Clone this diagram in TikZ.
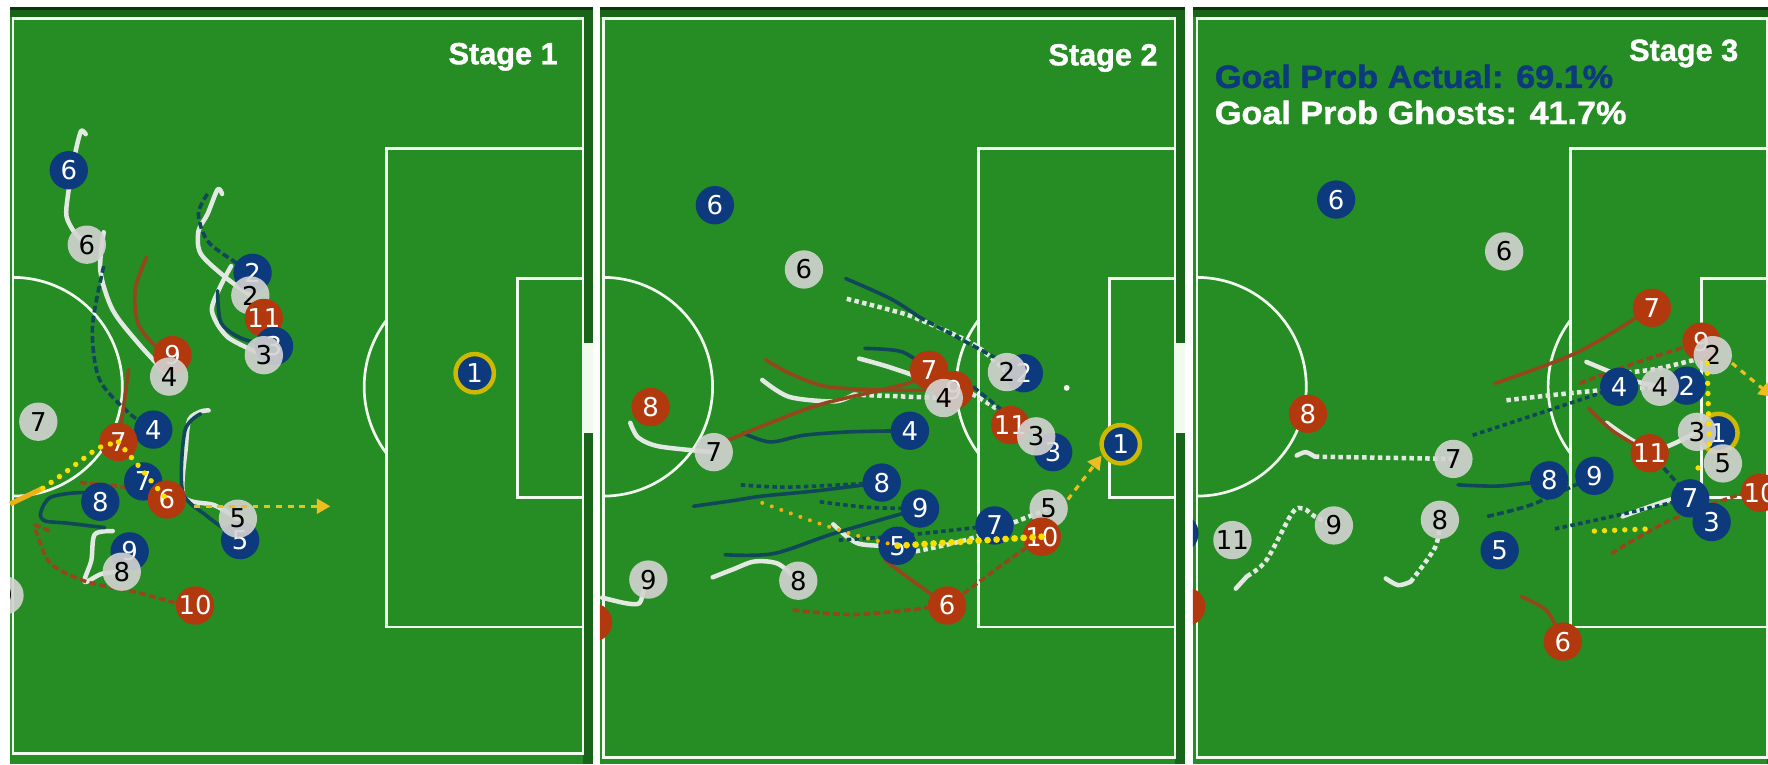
\documentclass[tikz,border=0pt]{standalone}
\usepackage{fontspec}
\setmainfont{DejaVu Sans}
\newfontfamily\labfont[BoldFeatures={FakeBold=1.2}]{Liberation Sans}
\usetikzlibrary{arrows.meta}
\definecolor{pitch}{RGB}{38,140,36}
\definecolor{pitchdark}{RGB}{24,100,24}
\definecolor{pitchedge}{RGB}{14,52,14}
\definecolor{lineW}{RGB}{240,250,238}
\definecolor{navy}{RGB}{12,58,125}
\definecolor{rust}{RGB}{178,56,14}
\definecolor{ghost}{RGB}{212,212,210}
\definecolor{btr}{RGB}{16,72,90}
\definecolor{rtr}{RGB}{150,70,28}
\definecolor{gtr}{RGB}{226,233,226}
\definecolor{ball}{RGB}{250,222,0}
\definecolor{ballor}{RGB}{240,175,20}
\definecolor{arr}{RGB}{238,190,30}
\definecolor{ring}{RGB}{205,185,0}
\pgfdeclarelayer{fieldlayer}
\pgfdeclarelayer{traillayer}
\pgfsetlayers{fieldlayer,traillayer,main}
\tikzset{
 pl/.style={circle,inner sep=0pt,minimum size=17pt,font=\fontsize{11.5}{11.5}\selectfont},
 bp/.style={pl,fill=navy,text=white},
 rp/.style={pl,fill=rust,text=white},
 gp/.style={pl,fill=ghost,text=black,fill opacity=0.9,text opacity=1},
 gk/.style={bp,draw=ring,line width=2pt},
 fl/.style={draw=lineW,line width=1.2pt},
 bt/.style={draw=btr,line width=1.6pt,line cap=round,line join=round},
 rt/.style={draw=rtr,line width=1.6pt,line cap=round,line join=round},
 gt/.style={draw=gtr,line width=2pt,line cap=round,line join=round},
 dotd/.style={line cap=butt,dash pattern=on 2pt off 1.5pt},
 dsh/.style={line cap=butt,dash pattern=on 3pt off 1.5pt},
 balldots/.style={draw=ball,line width=2.4pt,line cap=round,dash pattern=on 0pt off 4.5pt},
 passarrow/.style={draw=arr,line width=1.4pt,line cap=butt,dash pattern=on 2.6pt off 2.6pt,-{Triangle[length=6pt,width=6.5pt]}},
 stage/.style={text=white,font=\labfont\bfseries\fontsize{13.6}{14}\selectfont,anchor=base east,inner sep=0pt},
 prob/.style={font=\labfont\bfseries\fontsize{14.3}{15}\selectfont,anchor=base west,inner sep=0pt,xscale=1.06},
}
\newcommand{\pitchpanel}[5]{%
\begin{pgfonlayer}{fieldlayer}
\begin{scope}[shift={(#1,0)}]
\fill[pitchdark] (#2,6) rectangle (#5,678);
\fill[pitch] (#2,15) rectangle (517,678);
\fill[pitchedge] (#2,6) rectangle (#5,9);
\draw[fl] (#3,16.5) rectangle (517,#4);
\draw[fl] (343,132) rectangle (517,556);
\draw[fl] (459,247) rectangle (517,441);
\draw[fl] (#3,246) arc[start angle=-90,end angle=90,radius=97];
\draw[fl] (342.7,402) arc[start angle=143,end angle=217,radius=98];
\fill[lineW] (421,344) circle[radius=2.6];
\fill[lineW] (517,304) rectangle (#5,384);
\end{scope}
\end{pgfonlayer}}
\begin{document}
\begin{tikzpicture}[x=0.5pt,y=-0.5pt]
\useasboundingbox (0,0) rectangle (1568,678);
\pitchpanel{0}{9}{11.5}{668}{526}
\pitchpanel{525}{7}{10}{672}{526}
\pitchpanel{1050}{8}{11.5}{672}{526}

% ---------------- Panel 1 players
\begin{scope}
\clip (9,6) rectangle (526,678);
\node[bp] (pb6) at (61,151) {6};
\node[gp] (pg6) at (77,217) {6};
\node[bp] (pb2) at (224,242) {2};
\node[gp] (pg2) at (222,262) {2};
\node[rp] (pr11) at (234,282) {11};
\node[bp] (pb3) at (243,307) {3};
\node[gp] (pg3) at (234,315) {3};
\node[rp] (pr9) at (153,315) {9};
\node[gp] (pg4) at (150,334) {4};
\node[bp] (pb4) at (136,381) {4};
\node[rp] (pr7) at (105,392) {7};
\node[bp] (pb7) at (127,427) {7};
\node[rp] (pr6) at (148,443) {6};
\node[bp] (pb8) at (89,445) {8};
\node[gp] (pg7) at (34,374) {7};
\node[bp] (pb5) at (213,479) {5};
\node[gp] (pg5) at (211,460) {5};
\node[bp] (pb9) at (115,489) {9};
\node[gp] (pg8) at (108,507) {8};
\node[rp] (pr10) at (173,537) {10};
\node[gp] (pg9) at (4,528) {9};
\node[gk] (pk) at (421,331) {1};
\end{scope}

% ---------------- Panel 2 players
\begin{scope}
\clip (532,6) rectangle (1051,678);
\node[bp] (qb6) at (634,182) {6};
\node[gp] (qg6) at (713,239) {6};
\node[bp] (qb2) at (908,331) {2};
\node[gp] (qg2) at (893,330) {2};
\node[rp] (qr7) at (824,328) {7};
\node[rp] (qr9) at (846,346) {9};
\node[gp] (qg4) at (837,353) {4};
\node[rp] (qr11) at (896,377) {11};
\node[bp] (qb3) at (934,401) {3};
\node[gp] (qg3) at (919,387) {3};
\node[rp] (qr8) at (577,361) {8};
\node[gp] (qg7) at (633,401) {7};
\node[bp] (qb4) at (807,382) {4};
\node[bp] (qb8) at (782,428) {8};
\node[bp] (qb9) at (816,451) {9};
\node[bp] (qb7) at (882,466) {7};
\node[bp] (qb5) at (796,484) {5};
\node[gp] (qg5) at (930,451) {5};
\node[rp] (qr10) at (924,476) {10};
\node[gp] (qg9) at (575,514) {9};
\node[gp] (qg8) at (708,515) {8};
\node[rp] (qr6) at (840,537) {6};
\node[rp] (qr2) at (526,552) {2};
\node[gk] (qk) at (994,394) {1};
\end{scope}

% ---------------- Panel 3 players
\begin{scope}
\clip (1058,6) rectangle (1568,678);
\node[bp] (sb6) at (1185,177) {6};
\node[gp] (sg6) at (1334,223) {6};
\node[rp] (sr7) at (1465,273) {7};
\node[rp] (sr9) at (1509,303) {9};
\node[gp] (sg2) at (1519,315) {2};
\node[bp] (sb4) at (1436,343) {4};
\node[bp] (sb2) at (1496,342) {2};
\node[gp] (sg4) at (1472,343) {4};
\node[gk] (sk) at (1524,384) {1};
\node[gp] (sg3) at (1505,383) {3};
\node[gp] (sg5) at (1528,411) {5};
\node[rp] (sr11) at (1463,402) {11};
\node[rp] (sr8) at (1160,367) {8};
\node[gp] (sg7) at (1289,407) {7};
\node[bp] (sb8) at (1374,426) {8};
\node[bp] (sb9) at (1414,422) {9};
\node[bp] (sb7) at (1499,442) {7};
\node[bp] (sb3) at (1518,463) {3};
\node[rp] (sr10) at (1561,437) {10};
\node[bp] (sb5) at (1330,488) {5};
\node[gp] (sg11) at (1093,479) {11};
\node[gp] (sg9) at (1183,466) {9};
\node[gp] (sg8) at (1277,461) {8};
\node[bp] (sbx) at (1046,473) {};
\node[rp] (sr2) at (1052,538) {2};
\node[rp] (sr6) at (1386,569) {6};
\end{scope}

% ---------------- trails
\begin{pgfonlayer}{traillayer}
% panel 1
\draw[gt] plot[smooth] coordinates {(76,119) (72,116) (68,130) (64,150) (60,175) (59,192) (66,206) (pg6.center)};
\draw[gt] plot[smooth] coordinates {(92,206) (89,240) (100,275) (124,306) (pg4.center)};
\draw[gt] plot[smooth] coordinates {(197,172) (193,168) (184,190) (176,205) (178,225) (200,246) (pg2.center)};
\draw[gt] plot[smooth] coordinates {(205,236) (195,255) (188,276) (202,299) (pg3.center)};
\draw[gt] plot[smooth] coordinates {(185,364) (178,365) (168,372) (165,395) (163,440) (190,448) (pg5.center)};
\draw[gt] plot[smooth] coordinates {(100,471) (84,474) (81,497) (75,516) (90,509) (pg8.center)};
\draw[bt,dsh] plot[smooth] coordinates {(92,236) (82,290) (88,336) (114,366) (pb4.center)};
\draw[bt,dsh] plot[smooth] coordinates {(184,172) (176,190) (186,216) (pb2.center)};
\draw[bt] plot[smooth] coordinates {(193,258) (196,286) (214,300) (pb3.center)};
\draw[bt] plot[smooth] coordinates {(178,367) (164,382) (162,436) (184,458) (pb5.center)};
\draw[bt] plot[smooth] coordinates {(pb8.center) (74,437) (45,441) (36,455) (40,462) (60,464) (93,468)};
\draw[rt] plot[smooth] coordinates {(130,228) (120,256) (122,286) (136,305) (pr9.center)};
\draw[rt] plot[smooth] coordinates {(114,328) (110,358) (pr7.center)};
\draw[rt,dsh] plot[smooth] coordinates {(71,428) (110,432) (pr6.center)};
\draw[rt,dsh] plot[smooth] coordinates {(pr10.center) (157,535) (120,525) (77,516) (45,500) (33,474) (31,466) (44,471)};
\draw[draw=ballor,line width=2.2pt] (9,447) -- (38,433);
% panel 2
\draw[gt,dotd] plot[smooth] coordinates {(751,265) (790,275) (812,282) (863,305) (qg2.center)};
\draw[gt] plot[smooth] coordinates {(676,337) (700,352) (740,356) (757,350)};
\draw[gt,dotd] (757,350) -- (qg4.center);
\draw[gt] plot[smooth] coordinates {(762,318) (790,326) (822,338) (qg4.center)};
\draw[gt,dotd] plot[smooth] coordinates {(856,346) (880,360) (qg3.center)};
\draw[gt] plot[smooth] coordinates {(559,375) (566,388) (585,396) (qg7.center)};
\draw[gt] plot[smooth] coordinates {(739,465) (761,482) (qb5.center)};
\draw[gt,dotd] plot[smooth] coordinates {(812,489) (863,477) (qg5.center)};
\draw[gt] plot[smooth] coordinates {(632,512) (650,505) (669,498) (690,500) (qg8.center)};
\draw[gt] plot[smooth] coordinates {(534,530) (555,535) (567,535) (571,523) (qg9.center)};
\draw[bt] plot[smooth] coordinates {(750,247) (790,265) (815,281)};
\draw[bt,dsh] plot[smooth] coordinates {(815,281) (860,305) (qb2.center)};
\draw[bt] plot[smooth] coordinates {(767,309) (800,312) (qr7.center)};
\draw[bt,dsh] plot[smooth] coordinates {(863,343) (890,365) (qb3.center)};
\draw[bt] plot[smooth] coordinates {(659,384) (683,392) (713,386) (754,383) (qb4.center)};
\draw[bt,dotd] plot[smooth] coordinates {(657,430) (700,432) (qb8.center)};
\draw[bt] plot[smooth] coordinates {(615,449) (650,444) (676,440) (727,435) (qb8.center)};
\draw[bt,dotd] plot[smooth] coordinates {(727,445) (770,450) (qb9.center)};
\draw[bt] plot[smooth] coordinates {(643,492) (686,491) (740,473) (qb9.center)};
\draw[bt,dotd] plot[smooth] coordinates {(744,479) (800,475) (qb7.center)};
\draw[rt] plot[smooth] coordinates {(642,392) (683,375) (730,358) (805,340) (qr7.center)};
\draw[rt] plot[smooth] coordinates {(679,319) (700,331) (734,343) (790,346) (qr9.center)};
\draw[rt,dsh] plot[smooth] coordinates {(703,541) (760,545) (qr6.center)};
\draw[rt,dsh] plot[smooth] coordinates {(qr6.center) (859,523) (890,500) (qr10.center)};
\draw[rt] plot[smooth] coordinates {(785,497) (805,512) (qr6.center)};
% panel 3
\draw[gt] plot[smooth] coordinates {(1150,404) (1158,401) (1166,405)};
\draw[gt,dotd] (1166,405) -- (sg7.center);
\draw[gt] (1096,522) -- (1106,511);
\draw[gt,dotd] plot[smooth] coordinates {(1106,511) (1123,497) (1146,455) (1156,451) (1166,458) (sg9.center)};
\draw[gt] plot[smooth] coordinates {(1229,513) (1240,519) (1251,516)};
\draw[gt,dotd] plot[smooth] coordinates {(1251,516) (1273,485) (sg8.center)};
\draw[gt,dotd] plot[smooth] coordinates {(1336,355) (1380,350) (1422,346) (sg4.center)};
\draw[gt] plot[smooth] coordinates {(1407,321) (1431,331) (1450,338) (sg4.center)};
\draw[gt,dotd] plot[smooth] coordinates {(1436,331) (1470,327) (sg2.center)};
\draw[gt] plot[smooth] coordinates {(1425,375) (1452,393) (1475,397) (sg3.center)};
\draw[gt] plot[smooth] coordinates {(1439,458) (1482,443) (sb7.center)};
\draw[bt,dotd] plot[smooth] coordinates {(1306,386) (1370,365) (sb4.center)};
\draw[bt] plot[smooth] coordinates {(1293,430) (1330,431) (sb8.center)};
\draw[bt,dsh] plot[smooth] coordinates {(1319,458) (1360,447) (sb9.center)};
\draw[bt,dotd] plot[smooth] coordinates {(1379,469) (1430,458) (sb7.center)};
\draw[bt,dsh] plot[smooth] coordinates {(sr11.center) (1480,420) (sb7.center)};
\draw[rt] plot[smooth] coordinates {(1326,340) (1400,312) (sr7.center)};
\draw[rt,dsh] plot[smooth] coordinates {(1401,340) (1450,322) (sr9.center)};
\draw[rt] plot[smooth] coordinates {(1409,362) (1430,382) (sr11.center)};
\draw[rt,dsh] plot[smooth] coordinates {(1429,491) (1480,462) (1545,438) (sr10.center)};
\draw[rt] plot[smooth] coordinates {(1349,529) (1372,542) (sr6.center)};
\end{pgfonlayer}

% ---------------- ball paths and passes (on top)
\draw[balldots] plot[smooth] coordinates {(38,433) (55,421) (71,409) (88,397) (pr7.center)};
\draw[balldots] (pr7.center) -- (pr6.center);
\coordinate (pa0) at (172,449);
\coordinate (pa1) at (293,449);
\draw[passarrow] (pa0) -- (pa1);

\draw[balldots,draw=ballor,line width=1.8pt] plot[smooth] coordinates {(676,446) (720,462) (760,475) (qb5.center)};
\draw[balldots,line width=3pt,dash pattern=on 0pt off 4pt] (qb5.center) -- (qr10.center);
\coordinate (qa0) at (947,443);
\coordinate (qa1) at (977,404);
\draw[passarrow] (qa0) -- (qa1);

\draw[balldots] (1514,322) -- (1516,396);
\fill[ball] (1506,415) circle[radius=2.4];
\draw[balldots] (1414,471) -- (1464,469);
\coordinate (sa0) at (1536,322);
\coordinate (sa1) at (1572,352);
\draw[passarrow] (sa0) -- (sa1);

% ---------------- labels
\node[stage] (st1) at (495,57) {Stage 1};
\node[stage] (st2) at (1027,58) {Stage 2};
\node[stage] (st3) at (1542,54) {Stage 3};
\node[prob,text=navy] (gpa) at (1077,78) {Goal Prob Actual: 69.1\%};
\node[prob,text=white] (gpg) at (1077,110) {Goal Prob Ghosts: 41.7\%};
\end{tikzpicture}
\end{document}
